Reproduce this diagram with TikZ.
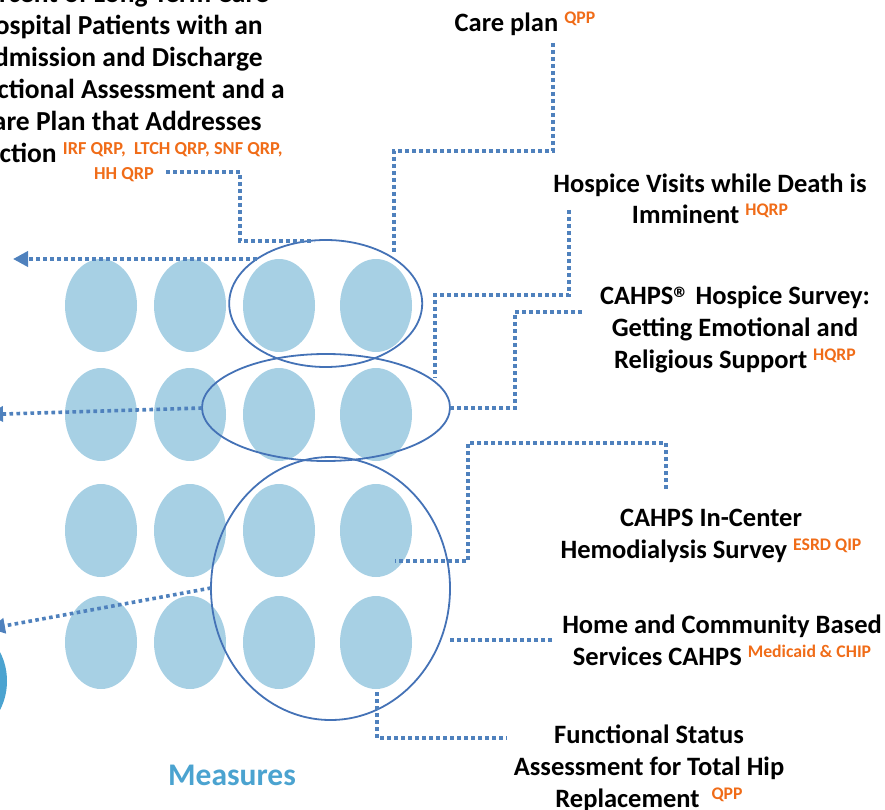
\documentclass[tikz,border=0pt]{standalone}
\usepackage{fontspec}
\setmainfont{Carlito}
\usetikzlibrary{shapes.geometric,arrows.meta}
\definecolor{lightblu}{RGB}{167,208,228}
\definecolor{ringblu}{RGB}{68,114,182}
\definecolor{dotblu}{RGB}{79,129,189}
\definecolor{measblu}{RGB}{75,163,208}
\definecolor{orng}{RGB}{240,108,24}
\newcommand\bigf{\fontsize{26.5}{32}\selectfont\bfseries}
\newcommand\ltcf{\fontsize{27.5}{32}\selectfont\bfseries}
\newcommand\supo[1]{\raisebox{8pt}{\fontsize{17.7}{20}\selectfont\bfseries\color{orng}#1}}
\newcommand\supl[1]{\raisebox{8pt}{\fontsize{18.3}{20}\selectfont\bfseries\color{orng}#1}}
\newcommand\supb[1]{\raisebox{-5pt}{\fontsize{32}{34}\selectfont\bfseries #1}}
\begin{document}
\begin{tikzpicture}[x=1pt,y=-1pt,
  lbl/.style={font=\bigf, align=center, anchor=base, inner sep=0pt, text=black},
  dotell/.style={ellipse, fill=lightblu, draw=none, minimum width=72pt, minimum height=93pt, inner sep=0pt},
  ring/.style={ellipse, draw=ringblu, line width=1.8pt, inner sep=0pt},
  dotln/.style={draw=dotblu, line width=3.6pt, dash pattern=on 3.6pt off 3.4pt, line cap=butt},
  arr/.style={dotln, -{Triangle[length=15pt,width=15pt]}}]
\clip (0,0) rectangle (885,810);
% left partial circle
\fill[measblu] (-56.5,681) circle (63.5pt);
% grid of measure ellipses
\foreach \x [count=\i] in {101,190,279,376}
  \foreach \y [count=\j] in {305.5,414.5,530.5,642.5}
    \node[dotell] (m\i\j) at (\x,\y) {};
% grouping rings
\node[ring, minimum width=193pt, minimum height=127pt] (E1) at (325.7,303.5) {};
\node[ring, minimum width=248pt, minimum height=107pt] (E2) at (326,407.5) {};
\node[ring, minimum width=239pt, minimum height=263pt] (E3) at (330.5,588.5) {};
% texts (anchor = baseline of last line)
\node[lbl, font=\ltcf] (ltc) at (120,163) {Percent of Long-Term Care\\Hospital Patients with an\\Admission and Discharge\\Functional Assessment and a\\Care Plan that Addresses\\Function \supl{IRF QRP,\ \ LTCH QRP, SNF QRP,}};
\node[anchor=base, inner sep=0pt, font=\fontsize{18.3}{20}\selectfont\bfseries, text=orng] (hh) at (124,180) {HH QRP};
\node[lbl] (cp) at (525,32) {Care plan \supo{QPP}};
\node[lbl] (hv) at (710,224) {Hospice Visits while Death is\\Imminent \supo{HQRP}};
\node[lbl] (ch) at (735,368) {CAHPS\supb{®} Hospice Survey:\\Getting Emotional and\\Religious Support \supo{HQRP}};
\node[lbl] (ic) at (711,558) {CAHPS In-Center\\Hemodialysis Survey \supo{ESRD QIP}};
\node[lbl] (hc) at (722,665) {Home and Community Based\\Services CAHPS \supo{Medicaid \& CHIP}};
\node[lbl] (fs) at (649,807) {Functional Status\\Assessment for Total Hip\\Replacement\ \ \supo{QPP}};
\node[anchor=base, inner sep=0pt, font=\fontsize{31.5}{36}\selectfont\bfseries, text=measblu] (meas) at (232,785) {Measures};
% connector end points
\coordinate (ltcA) at (166,172);
\coordinate (ltcB) at (240,241);
\coordinate (ltcC) at (314,241);
\coordinate (cpA) at (553,43);
\coordinate (cpB) at (394,151);
\coordinate (cpC) at (394,253);
\coordinate (hvA) at (569,210);
\coordinate (hvB) at (435,295);
\coordinate (hvC) at (435,378);
\coordinate (chA) at (582,312);
\coordinate (chB) at (515,408);
\coordinate (chC) at (450,408);
\coordinate (icA) at (666,489);
\coordinate (icB) at (468,443);
\coordinate (icC) at (395,561);
\coordinate (hcA) at (552,640);
\coordinate (hcB) at (448,640);
\coordinate (fsA) at (377,692);
\coordinate (fsB) at (507,738);
\coordinate (a1s) at (257,259);
\coordinate (a1e) at (13,259);
\coordinate (a2s) at (202,408);
\coordinate (a2e) at (-12,414.5);
\coordinate (a3s) at (211,588);
\coordinate (a3e) at (-10,628.5);
% connectors
\draw[dotln] (ltcA) -| (ltcB) -- (ltcC);
\draw[dotln] (cpA) |- (cpB) -- (cpC);
\draw[dotln] (hvA) |- (hvB) -- (hvC);
\draw[dotln] (chA) -| (chB) -- (chC);
\draw[dotln] (icA) |- (icB) |- (icC);
\draw[dotln] (hcA) -- (hcB);
\draw[dotln] (fsA) |- (fsB);
% arrows to the left
\draw[arr] (a1s) -- (a1e);
\draw[arr] (a2s) -- (a2e);
\draw[arr] (a3s) -- (a3e);
\end{tikzpicture}
\end{document}
